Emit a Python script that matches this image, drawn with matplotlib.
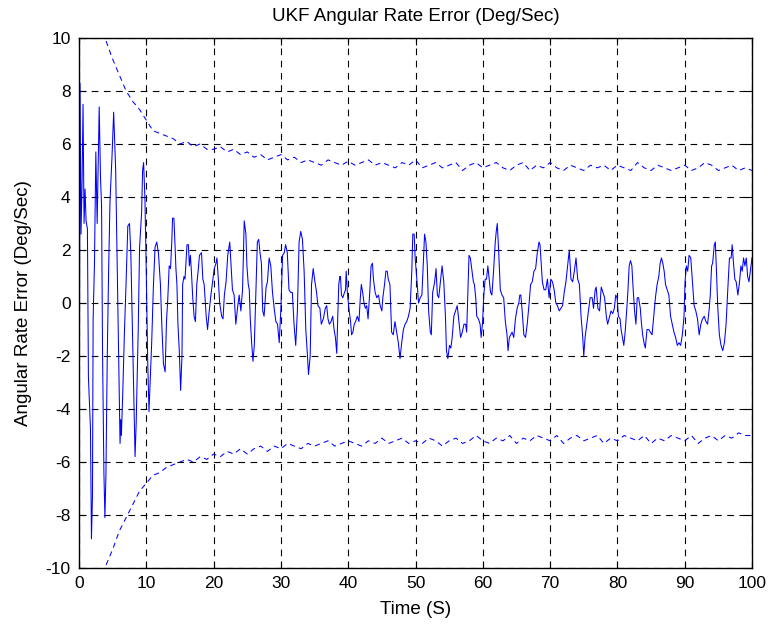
import matplotlib
matplotlib.use("Agg")
import matplotlib.pyplot as plt

plt.rcParams['font.family'] = ['Liberation Sans', 'DejaVu Sans']
plt.rcParams['axes.unicode_minus'] = False

time_s = [0.0, 0.15, 0.3, 0.45, 0.6, 0.75, 0.9, 1.05, 1.25, 1.4, 1.55, 1.7, 1.85, 2.0, 2.1, 2.3, 2.5, 2.7, 3.0,
          3.2, 3.35, 3.5, 3.7, 3.85, 4.0, 4.2, 4.4, 4.6, 4.9, 5.15, 5.45, 5.8, 6.0, 6.1, 6.2, 6.3, 6.5, 6.75, 7.0,
          7.25, 7.5, 7.7, 7.9, 8.1, 8.33, 8.5, 8.8, 9.0, 9.3, 9.45, 9.6, 9.8, 10.0, 10.2, 10.4, 10.6, 10.8, 11.05,
          11.3, 11.55, 11.8, 12.1, 12.3, 12.55, 12.8, 13.0, 13.2, 13.4, 13.6, 13.8, 13.9, 14.1, 14.25, 14.4, 14.55,
          14.7, 14.9, 15.1, 15.3, 15.4, 15.6, 15.75, 16.05, 16.25, 16.4, 16.55, 16.7, 16.9, 17.1, 17.3, 17.5, 17.7,
          17.9, 18.2, 18.4, 18.6, 18.9, 19.1, 19.35, 19.6, 19.85, 20.1, 20.35, 20.5, 20.7, 20.9, 21.2, 21.4, 21.6,
          21.85, 22.1, 22.4, 22.6, 22.8, 23.05, 23.3, 23.55, 23.8, 24.05, 24.3, 24.55, 24.8, 24.95, 25.15, 25.3,
          25.45, 25.65, 25.85, 26.05, 26.3, 26.5, 26.7, 26.9, 27.1, 27.3, 27.5, 27.8, 28.0, 28.25, 28.5, 28.75,
          29.0, 29.25, 29.5, 29.75, 30.0, 30.25, 30.5, 30.7, 30.95, 31.2, 31.45, 31.7, 31.95, 32.2, 32.45, 32.7,
          32.95, 33.2, 33.45, 33.7, 33.95, 34.1, 34.35, 34.55, 34.8, 35.0, 35.3, 35.5, 35.8, 36.0, 36.3, 36.6,
          36.8, 37.0, 37.2, 37.45, 37.7, 37.9, 38.1, 38.3, 38.45, 38.6, 38.75, 38.85, 39.0, 39.2, 39.45, 39.6,
          39.7, 39.9, 40.1, 40.35, 40.5, 40.7, 40.9, 41.1, 41.35, 41.6, 41.8, 41.95, 42.15, 42.35, 42.55, 42.75,
          42.95, 43.2, 43.4, 43.6, 43.75, 44.0, 44.25, 44.5, 44.75, 45.0, 45.15, 45.4, 45.6, 45.8, 45.95, 46.2,
          46.45, 46.7, 46.95, 47.2, 47.45, 47.7, 47.95, 48.2, 48.45, 48.7, 48.95, 49.2, 49.45, 49.6, 49.8, 49.95,
          50.2, 50.45, 50.7, 50.95, 51.2, 51.35, 51.55, 51.75, 51.95, 52.2, 52.35, 52.55, 52.85, 53.05, 53.25,
          53.45, 53.7, 53.95, 54.2, 54.45, 54.6, 54.8, 55.05, 55.25, 55.45, 55.7, 55.95, 56.2, 56.45, 56.7, 56.95,
          57.2, 57.45, 57.6, 57.75, 57.95, 58.15, 58.35, 58.6, 58.75, 58.95, 59.1, 59.35, 59.6, 59.75, 59.95,
          60.15, 60.35, 60.55, 60.75, 60.95, 61.15, 61.35, 61.6, 61.85, 62.0, 62.15, 62.35, 62.6, 62.85, 63.1,
          63.35, 63.6, 63.75, 63.95, 64.15, 64.35, 64.6, 64.85, 65.1, 65.35, 65.5, 65.65, 65.85, 66.1, 66.35,
          66.6, 66.85, 67.1, 67.35, 67.6, 67.85, 68.1, 68.35, 68.5, 68.7, 68.85, 69.1, 69.35, 69.6, 69.85, 70.1,
          70.35, 70.6, 70.85, 71.1, 71.35, 71.6, 71.85, 72.1, 72.35, 72.6, 72.85, 73.1, 73.35, 73.6, 73.85, 74.1,
          74.35, 74.6, 74.85, 75.0, 75.2, 75.45, 75.75, 75.95, 76.25, 76.45, 76.7, 76.85, 77.1, 77.35, 77.6,
          77.85, 78.1, 78.35, 78.55, 78.75, 79.05, 79.3, 79.55, 79.75, 79.95, 80.15, 80.4, 80.55, 80.75, 80.95,
          81.15, 81.4, 81.55, 81.75, 81.95, 82.15, 82.3, 82.55, 82.75, 82.95, 83.15, 83.4, 83.55, 83.75, 83.95,
          84.15, 84.4, 84.65, 84.9, 85.15, 85.4, 85.65, 85.9, 86.15, 86.35, 86.55, 86.75, 86.95, 87.15, 87.4,
          87.65, 87.9, 88.15, 88.4, 88.65, 88.9, 89.15, 89.4, 89.65, 89.9, 90.05, 90.25, 90.45, 90.65, 90.9,
          91.15, 91.4, 91.65, 91.9, 92.15, 92.4, 92.65, 92.9, 93.15, 93.4, 93.65, 93.8, 94.0, 94.15, 94.4, 94.55,
          94.75, 94.9, 95.15, 95.4, 95.65, 95.9, 96.15, 96.4, 96.65, 96.9, 97.05, 97.25, 97.45, 97.65, 97.9,
          98.15, 98.35, 98.55, 98.75, 98.95, 99.15, 99.35, 99.55, 99.75, 100.0]

rate_error = [-10.0, 8.3, 2.6, 4.5, 7.5, 3.0, 4.3, 3.1, 2.8, -2.8, -3.8, -4.7, -8.9, -7.3, -0.6, 1.5, 5.7, 3.0, 7.4,
              4.7, 3.7, -1.9, -6.4, -8.1, -6.5, -2.0, 1.2, 3.8, 5.5, 7.2, 5.0, -0.6, -4.0, -5.3, -4.4, -5.0, -3.4,
              -1.1, 0.8, 2.9, 3.0, 1.9, -0.5, -2.8, -5.8, -4.5, -1.0, 2.1, 3.4, 5.0, 5.3, 3.9, 1.1, -2.1, -4.1,
              -2.8, -1.5, 0.6, 2.1, 2.3, 1.9, 0.7, -0.8, -2.3, -2.6, -0.7, 0.2, 1.4, 1.3, 2.4, 3.2, 3.2, 2.3, 1.3,
              0.7, -0.8, -1.8, -3.3, -2.0, 0.7, 1.0, 0.9, 2.2, 2.2, 1.4, 1.8, 1.2, 0.2, -0.5, -0.7, 0.7, 1.2, 1.8,
              1.9, 0.9, 0.7, -0.5, -1.0, -0.3, 0.3, 0.8, 1.3, 1.5, 1.7, 0.9, 0.0, -0.5, -0.6, 0.3, 0.8, 1.8, 2.3,
              1.4, 0.5, 0.3, -0.8, -0.2, 0.3, -0.3, 0.5, 3.1, 2.6, 1.4, 0.7, 0.5, -0.6, -1.5, -2.2, -1.6, 0.5, 2.3,
              2.4, 1.9, 1.5, -0.3, -0.5, 0.6, 0.8, 1.7, 1.4, 0.4, -0.2, -0.7, -0.8, -1.5, -0.2, 1.8, 1.9, 2.2, 1.9,
              0.5, 0.4, 0.4, -0.8, -1.6, -0.3, 2.3, 2.7, 2.4, 1.2, -1.0, -2.0, -2.7, -2.0, 0.7, 1.3, 0.9, 0.4,
              -0.1, -0.2, -0.8, -0.6, -0.2, -0.1, -0.6, -0.8, -0.7, -0.5, -1.0, -1.3, -1.9, -0.5, 0.7, 1.0, 1.0,
              0.3, 0.2, 0.4, 0.5, 1.2, 0.3, -0.2, -0.7, -1.2, -1.1, -0.8, -0.7, -0.5, -0.7, 0.2, 0.7, 0.4, 0.0,
              -0.2, -0.1, -0.6, 0.4, 1.4, 1.5, 0.9, 0.4, 0.2, 0.3, -0.1, -0.3, 0.2, 0.7, 1.2, 1.2, 0.9, 0.7, -1.1,
              -1.2, -0.7, -1.1, -1.5, -2.1, -1.5, -1.0, -0.8, -0.7, -0.5, -0.2, 1.2, 2.6, 2.6, 1.7, 0.9, 0.0, 0.2,
              0.3, 1.7, 2.6, 2.3, 1.4, -0.3, -1.1, -1.2, 0.4, 0.8, 1.3, 0.3, 0.2, 0.8, 1.4, 0.8, -0.5, -1.8, -2.1,
              -1.6, -1.7, -1.3, -0.5, -0.3, -0.1, -0.7, -1.3, -1.1, -0.8, -0.8, -1.1, 0.2, 1.8, 1.7, 1.3, 0.8,
              0.7, 0.2, -0.5, -0.6, -0.8, -1.3, -0.8, 0.3, 0.9, 0.9, 1.4, 0.9, 0.4, 0.3, 1.2, 2.3, 2.7, 3.0, 2.0,
              0.5, 0.3, 0.2, -0.7, -1.2, -1.8, -1.3, -1.2, -1.1, -1.3, -0.6, -0.2, 0.0, 0.3, 0.3, -0.3, -1.2, -1.3,
              -0.8, -0.1, 0.7, 0.8, 1.2, 1.3, 1.9, 2.3, 2.2, 1.4, 0.8, 0.5, 0.5, 0.9, 0.2, 0.9, 0.8, 0.5, 0.0,
              -0.1, -0.3, -0.2, -0.1, 0.4, 0.8, 1.4, 2.0, 0.9, 0.8, 1.2, 1.7, 0.9, 0.7, -0.5, -1.3, -2.0, -1.3,
              -0.8, -0.2, 0.2, 0.2, -0.2, 0.5, 0.6, -0.2, -0.3, 0.6, 0.4, 0.2, -0.5, -0.8, -0.6, -0.3, -0.4, -0.2,
              0.3, 0.2, -0.5, -0.6, -1.0, -1.3, -1.6, -1.1, -0.2, 0.4, 1.4, 1.6, 1.4, 0.7, -0.3, -0.8, 0.2, 0.2,
              -0.2, -0.7, -1.2, -1.5, -1.7, -1.0, -1.0, -1.1, -1.2, -0.5, 0.2, 0.7, 1.0, 1.5, 1.7, 1.5, 1.2, 0.7,
              0.5, 0.3, -0.5, -0.8, -1.1, -1.3, -1.6, -1.5, -1.6, -1.2, -0.5, 0.8, 1.4, 1.2, 1.8, 1.7, 0.8, -0.1,
              -0.3, -0.6, -1.2, -0.8, -0.6, -0.5, -0.7, -0.8, -0.2, 0.3, 1.4, 1.5, 2.2, 2.3, 1.0, -0.1, -1.2,
              -1.6, -1.8, -1.5, -0.8, 0.5, 1.7, 1.7, 2.2, 1.5, 0.9, 0.8, 0.3, 0.8, 1.4, 1.2, 1.7, 1.4, 1.7, 1.0,
              0.8, 1.2, 1.7]

bound_time = [3.4] + list(range(4, 101))
upper_bound = [10.2, 9.9, 9.2, 8.6, 8.0, 7.6, 7.3, 6.9, 6.5, 6.4, 6.3, 6.2, 6.0, 6.1, 5.9, 6.0, 5.8, 5.8, 5.9,
               5.7, 5.8, 5.6, 5.7, 5.5, 5.6, 5.4, 5.5, 5.6, 5.4, 5.5, 5.3, 5.4, 5.3, 5.2, 5.4, 5.3, 5.2, 5.35,
               5.2, 5.3, 5.4, 5.2, 5.3, 5.2, 5.1, 5.3, 5.2, 5.4, 5.1, 5.2, 5.3, 5.1, 5.2, 5.3, 5.0, 5.2, 5.3,
               5.1, 5.2, 5.3, 5.1, 5.0, 5.2, 5.3, 5.0, 5.2, 5.1, 5.3, 5.1, 5.0, 5.2, 5.1, 5.0, 5.2, 5.1, 5.2,
               5.0, 5.2, 5.1, 5.0, 5.3, 5.1, 5.0, 5.2, 5.1, 5.0, 5.1, 5.2, 5.0, 5.1, 5.3, 5.2, 5.0, 5.1, 5.2,
               5.0, 5.1, 5.0]
lower_bound = [-10.2, -9.9, -9.3, -8.6, -8.1, -7.6, -7.1, -6.8, -6.5, -6.4, -6.2, -6.1, -6.0, -5.9, -6.0, -5.8,
               -5.9, -5.7, -5.8, -5.6, -5.7, -5.5, -5.7, -5.5, -5.4, -5.6, -5.4, -5.5, -5.3, -5.4, -5.5, -5.3,
               -5.4, -5.3, -5.2, -5.4, -5.3, -5.2, -5.3, -5.4, -5.2, -5.3, -5.1, -5.3, -5.2, -5.1, -5.3, -5.2,
               -5.3, -5.1, -5.2, -5.4, -5.2, -5.1, -5.3, -5.2, -5.0, -5.2, -5.3, -5.1, -5.2, -5.0, -5.3, -5.1,
               -5.2, -5.0, -5.1, -5.2, -5.0, -5.3, -5.1, -5.0, -5.2, -5.1, -5.0, -5.3, -5.1, -5.2, -5.0, -5.1,
               -5.2, -5.0, -5.3, -5.1, -5.2, -5.0, -5.1, -5.2, -5.0, -5.3, -5.1, -5.0, -5.2, -5.0, -5.1, -4.9,
               -5.0, -5.0]

x_ticks = list(range(0, 101, 10))
y_ticks = list(range(-10, 11, 2))

fig = plt.figure(figsize=(7.69, 6.28), dpi=100)
ax = fig.add_axes([79 / 769, 60 / 628, 673 / 769, 530 / 628])

ax.plot(time_s, rate_error, color='#0000ff', linewidth=0.75)
ax.plot(bound_time, upper_bound, color='#0000ff', linewidth=0.75, linestyle=(0, (5, 4)))
ax.plot(bound_time, lower_bound, color='#0000ff', linewidth=0.75, linestyle=(0, (5, 4)))

ax.set_xlim(0, 100)
ax.set_ylim(-10, 10)
ax.set_xticks(x_ticks)
ax.set_yticks(y_ticks)
ax.grid(True, color='black', linestyle=(0, (6, 5)), linewidth=0.8)
ax.tick_params(direction='in', top=True, right=True, length=5, labelsize=12.5, width=0.8, pad=6)
for s in ax.spines.values():
    s.set_linewidth(1.0)

ax.set_title('UKF Angular Rate Error (Deg/Sec)', fontsize=13.5, pad=12)
ax.set_xlabel('Time (S)', fontsize=13.5, labelpad=7)
ax.set_ylabel('Angular Rate Error (Deg/Sec)', fontsize=13.5, labelpad=10)

fig.savefig('out.png', dpi=100)
